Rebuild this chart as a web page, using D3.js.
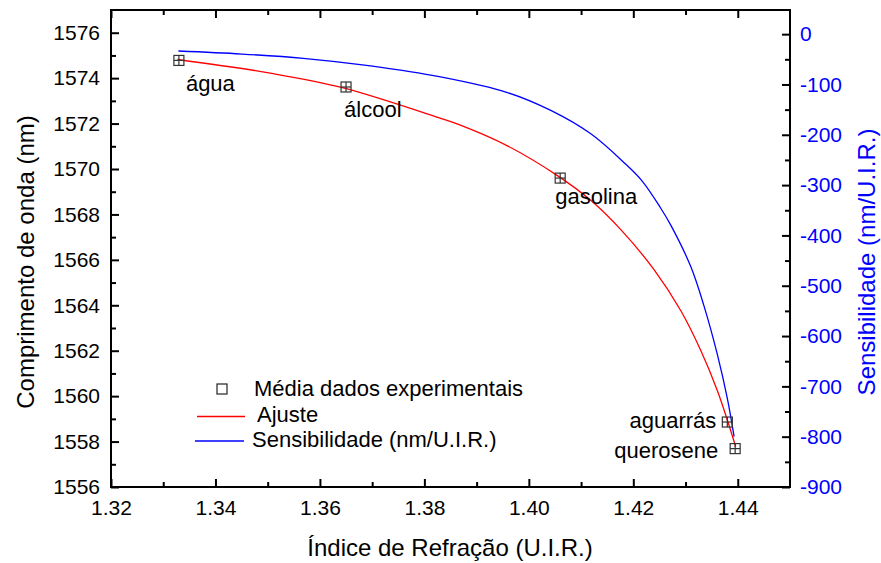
<!DOCTYPE html>
<html>
<head>
<meta charset="utf-8">
<script src="https://cdn.jsdelivr.net/npm/d3@7"></script>
<style>
  html, body { margin: 0; padding: 0; background: #fff; }
  svg { display: block; font-family: "Liberation Sans", Arial, sans-serif; }
</style>
</head>
<body>
<svg id="chart" width="881" height="563"></svg>
<script>
// Measured samples: refractive index and mean resonance wavelength
const sampleNames = ["água", "álcool", "gasolina", "aguarrás", "querosene"];
const sampleIndex = [1.333, 1.365, 1.406, 1.438, 1.4395];
const sampleWavelength = [1574.78, 1573.61, 1569.60, 1558.86, 1557.69];

// Fitted curve (wavelength, nm)
const fitIndex = [1.3327, 1.3505, 1.3643, 1.3831, 1.3869, 1.3959, 1.4054, 1.4118,
                  1.4176, 1.4240, 1.4291, 1.4329, 1.4361, 1.4380, 1.4396];
const fitWavelength = [1574.82, 1574.22, 1573.58, 1572.23, 1571.93, 1571.02, 1569.72, 1568.63,
                       1567.33, 1565.56, 1563.76, 1562.02, 1560.24, 1558.95, 1557.77];

// Sensitivity curve (nm/U.I.R.)
const sensIndex = [1.3329, 1.3450, 1.3568, 1.3697, 1.3831, 1.3959, 1.4042, 1.4118,
                   1.4182, 1.4217, 1.4252, 1.4272, 1.4310, 1.4335, 1.4361, 1.4380, 1.4393];
const sensValue = [-33.5, -39.5, -48, -63, -85, -116, -151.5, -197.5,
                   -255, -292, -345, -380, -462, -539, -637, -724, -800];

// Axis ticks
const xMajorTicks = [1.32, 1.34, 1.36, 1.38, 1.40, 1.42, 1.44];
const xMinorTicks = [1.33, 1.35, 1.37, 1.39, 1.41, 1.43];
const yLeftMajorTicks = [1556, 1558, 1560, 1562, 1564, 1566, 1568, 1570, 1572, 1574, 1576];
const yLeftMinorTicks = [1557, 1559, 1561, 1563, 1565, 1567, 1569, 1571, 1573, 1575];
const yRightMajorTicks = [0, -100, -200, -300, -400, -500, -600, -700, -800, -900];
const yRightMinorTicks = [-50, -150, -250, -350, -450, -550, -650, -750, -850];

// Text
const xTitle = "Índice de Refração (U.I.R.)";
const yLeftTitle = "Comprimento de onda (nm)";
const yRightTitle = "Sensibilidade (nm/U.I.R.)";
const legendLabels = ["Média dados experimentais", "Ajuste", "Sensibilidade (nm/U.I.R.)"];

// Label placement relative to each sample marker
const labelStyle = [
  { dx: 7, dy: 31, anchor: "start" },
  { dx: -2, dy: 30, anchor: "start" },
  { dx: -5, dy: 26, anchor: "start" },
  { dx: -11, dy: 6, anchor: "end" },
  { dx: -17, dy: 9, anchor: "end" }
];

const plot = { left: 111, right: 790, top: 10, bottom: 487 };
const BLUE = "#0000ff", RED = "#ff0000";

const svg = d3.select("#chart");

const x = d3.scaleLinear().domain([1.32, 1.45]).range([plot.left, plot.right]);
const yL = d3.scaleLinear().domain([1556, 1577]).range([plot.bottom, plot.top]);
const yR = d3.scaleLinear().domain([-900, 48]).range([plot.bottom, plot.top]);

function styleAxis(g, color) {
  g.select(".domain").remove();
  g.selectAll(".tick line").attr("stroke", "#000").attr("stroke-width", 2);
  g.selectAll(".tick text").attr("fill", color || "#000")
    .style("font-size", "21px").style("font-family", "'Liberation Sans', Arial, sans-serif");
}

// Bottom axis
svg.append("g").attr("transform", `translate(0,${plot.bottom})`)
  .call(d3.axisBottom(x).tickValues(xMajorTicks).tickFormat(d3.format(".2f"))
    .tickSizeInner(-8).tickSizeOuter(0).tickPadding(13))
  .call(g => styleAxis(g));
svg.append("g").attr("transform", `translate(0,${plot.bottom})`)
  .call(d3.axisBottom(x).tickValues(xMinorTicks).tickFormat("").tickSizeInner(-5).tickSizeOuter(0))
  .call(g => styleAxis(g));

// Top axis (ticks only)
svg.append("g").attr("transform", `translate(0,${plot.top})`)
  .call(d3.axisTop(x).tickValues(xMajorTicks).tickFormat("").tickSizeInner(-8).tickSizeOuter(0))
  .call(g => styleAxis(g));
svg.append("g").attr("transform", `translate(0,${plot.top})`)
  .call(d3.axisTop(x).tickValues(xMinorTicks).tickFormat("").tickSizeInner(-5).tickSizeOuter(0))
  .call(g => styleAxis(g));

// Left axis
svg.append("g").attr("transform", `translate(${plot.left},0)`)
  .call(d3.axisLeft(yL).tickValues(yLeftMajorTicks).tickFormat(d3.format("d"))
    .tickSizeInner(-8).tickSizeOuter(0).tickPadding(11))
  .call(g => styleAxis(g));
svg.append("g").attr("transform", `translate(${plot.left},0)`)
  .call(d3.axisLeft(yL).tickValues(yLeftMinorTicks).tickFormat("").tickSizeInner(-5).tickSizeOuter(0))
  .call(g => styleAxis(g));

// Right axis
svg.append("g").attr("transform", `translate(${plot.right},0)`)
  .call(d3.axisRight(yR).tickValues(yRightMajorTicks).tickFormat(d => d3.format("d")(d).replace("−", "-"))
    .tickSizeInner(-8).tickSizeOuter(0).tickPadding(10))
  .call(g => styleAxis(g, BLUE));
svg.append("g").attr("transform", `translate(${plot.right},0)`)
  .call(d3.axisRight(yR).tickValues(yRightMinorTicks).tickFormat("").tickSizeInner(-5).tickSizeOuter(0))
  .call(g => styleAxis(g));

// Frame
svg.append("rect")
  .attr("x", plot.left).attr("y", plot.top)
  .attr("width", plot.right - plot.left).attr("height", plot.bottom - plot.top)
  .attr("fill", "none").attr("stroke", "#000").attr("stroke-width", 2);

// Curves
const fitLine = d3.line().x(d => x(d[0])).y(d => yL(d[1])).curve(d3.curveCatmullRom.alpha(0.5));
const sensLine = d3.line().x(d => x(d[0])).y(d => yR(d[1])).curve(d3.curveCatmullRom.alpha(0.5));

svg.append("path")
  .datum(sensIndex.map((n, i) => [n, sensValue[i]]))
  .attr("d", sensLine).attr("fill", "none").attr("stroke", BLUE).attr("stroke-width", 1.3);

svg.append("path")
  .datum(fitIndex.map((n, i) => [n, fitWavelength[i]]))
  .attr("d", fitLine).attr("fill", "none").attr("stroke", RED).attr("stroke-width", 1.3);

// Sample markers: open square with a cross
const samples = sampleNames.map((name, i) => ({ name, n: sampleIndex[i], w: sampleWavelength[i], s: labelStyle[i] }));
const m = svg.append("g").selectAll("g").data(samples).join("g")
  .attr("transform", d => `translate(${x(d.n)},${yL(d.w)})`);
const half = 5;
m.append("rect").attr("x", -half).attr("y", -half).attr("width", 2 * half).attr("height", 2 * half)
  .attr("fill", "none").attr("stroke", "#333").attr("stroke-width", 1.2);
m.append("line").attr("x1", -half).attr("x2", half).attr("y1", 0).attr("y2", 0)
  .attr("stroke", "#333").attr("stroke-width", 1.2);
m.append("line").attr("x1", 0).attr("x2", 0).attr("y1", -half).attr("y2", half)
  .attr("stroke", "#333").attr("stroke-width", 1.2);
m.append("text")
  .attr("x", d => d.s.dx).attr("y", d => d.s.dy)
  .attr("text-anchor", d => d.s.anchor)
  .style("font-size", "22px").attr("fill", "#000")
  .text(d => d.name);

// Axis titles
svg.append("text")
  .attr("x", 450).attr("y", 556).attr("text-anchor", "middle")
  .style("font-size", "24px").text(xTitle);
svg.append("text")
  .attr("transform", "translate(34,262) rotate(-90)").attr("text-anchor", "middle")
  .style("font-size", "24px").text(yLeftTitle);
svg.append("text")
  .attr("transform", "translate(875,262) rotate(-90)").attr("text-anchor", "middle")
  .attr("fill", BLUE)
  .style("font-size", "24px").text(yRightTitle);

// Legend
const legend = svg.append("g").attr("transform", "translate(196,389)");
legend.append("rect").attr("x", 21).attr("y", -5).attr("width", 10).attr("height", 10)
  .attr("fill", "none").attr("stroke", "#222").attr("stroke-width", 1.2);
legend.append("text").attr("x", 58).attr("y", 7).style("font-size", "22px").text(legendLabels[0]);
legend.append("line").attr("x1", 1).attr("x2", 49).attr("y1", 27.5).attr("y2", 27.5)
  .attr("stroke", RED).attr("stroke-width", 1.3);
legend.append("text").attr("x", 61).attr("y", 33).style("font-size", "22px").text(legendLabels[1]);
legend.append("line").attr("x1", -1).attr("x2", 48).attr("y1", 52).attr("y2", 52)
  .attr("stroke", BLUE).attr("stroke-width", 1.3);
legend.append("text").attr("x", 56).attr("y", 58).style("font-size", "22px").text(legendLabels[2]);
</script>
</body>
</html>
